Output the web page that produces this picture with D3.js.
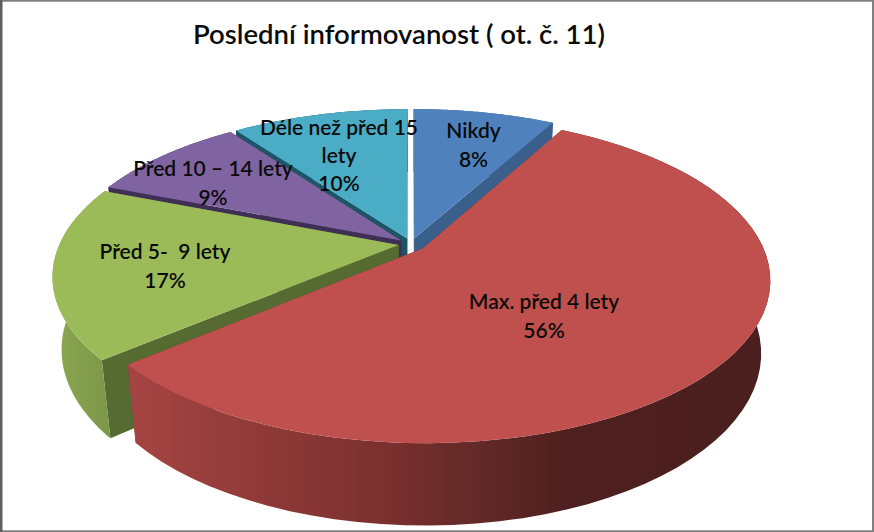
<!DOCTYPE html>
<html><head><meta charset="utf-8">
<script src="https://cdnjs.cloudflare.com/ajax/libs/d3/7.8.5/d3.min.js"></script>
<style>html,body{margin:0;padding:0;background:#fff}svg{display:block}text{font-family:Lato,"Noto Sans",sans-serif;fill:#0b0b0b;white-space:pre}</style>
</head><body><div id="c"></div>
<script>
const titleText = "Poslední informovanost ( ot. č. 11)";
const categories = ["Nikdy","Max. před 4 lety","Před 5-  9 lety","Před 10 – 14 lety","Déle než před 15 lety"];
const values = [8,55.8,17.2,9,10];
const labelLines = [["Nikdy","8%"],["Max. před 4 lety","56%"],["Před 5-  9 lety","17%"],["Před 10 – 14 lety","9%"],["Déle než před 15","lety","10%"]];
const labelPos = [[473.5,138],[544,309],[165,259],[213,176],[339,135]];
const topColors = ["#4F81BD","#C0504D","#9BBB59","#8064A2","#4BACC6"];
const wallColors = ["#3A5F8B","#7a2f2d","#566B31","#3F2F55","#1C5566"];
const explode = [12.5,15,12.5,12.5,12.5];
const W=874,H=532;
const svg=d3.select("#c").append("svg").attr("width",W).attr("height",H);
svg.append("rect").attr("x",.75).attr("y",.75).attr("width",W-1.75).attr("height",H-1.5).attr("fill","#fff").attr("stroke","#808080").attr("stroke-width",2);
svg.append("rect").attr("x",0).attr("y",0).attr("width",2.5).attr("height",H).attr("fill","#5f5f5f");

const defs=svg.append("defs");
const gr=defs.append("linearGradient").attr("id","redWall").attr("gradientUnits","userSpaceOnUse").attr("x1",131).attr("x2",770).attr("y1",0).attr("y2",0);
[[0,"#A54543"],[.2,"#8F3A38"],[.4,"#7A302E"],[.55,"#612928"],[.68,"#4E201F"],[1,"#4A1F1E"]].forEach(s=>gr.append("stop").attr("offset",s[0]).attr("stop-color",s[1]));
const gg=defs.append("linearGradient").attr("id","greenWall").attr("gradientUnits","userSpaceOnUse").attr("x1",54).attr("x2",110).attr("y1",0).attr("y2",0);
[[0,"#8CA851"],[1,"#7B9647"]].forEach(s=>gg.append("stop").attr("offset",s[0]).attr("stop-color",s[1]));

// projection
const cx=411,cy=244,R=339,K=.19,A=155.9,HH=73.3,B=.025;
function proj(th,r,bottom,off,E){
  const X=r*Math.sin(th)+E*Math.sin(off), Z=r*Math.cos(th)+E*Math.cos(off);
  const d=1+K*Z/R+(bottom?B:0);
  return [cx+X/d, cy+(-A*Z/R+(bottom?HH:0))/d];
}
const pieGen=d3.pie().sort(null).value(d=>d);
const arcs=pieGen(values);
const line=d3.line();
function arcPts(a,bottom,off,E){
  return d3.range(0,61).map(i=>{const t=a.startAngle+(a.endAngle-a.startAngle)*i/60;return proj(t,R,bottom,off,E);});
}
const order=[0,4,3,2,1];
const g=svg.append("g");
order.forEach(i=>{
  const a=arcs[i],off=(a.startAngle+a.endAngle)/2,E=explode[i];
  const sl=g.append("g");
  const ct=proj(0,0,false,off,E),cb=proj(0,0,true,off,E);
  const topArc=arcPts(a,false,off,E),botArc=arcPts(a,true,off,E);
  const wall=i==1?"url(#redWall)":i==2?"url(#greenWall)":wallColors[i];
  [[topArc[0],botArc[0]],[topArc[60],botArc[60]]].forEach(p=>{
    sl.append("path").attr("d",line([ct,p[0],p[1],cb])+"Z").attr("fill",wallColors[i]);
  });
  sl.append("path").attr("d",line(topArc.concat(botArc.slice().reverse()))+"Z").attr("fill",wall);
  sl.append("path").attr("d",line([ct].concat(topArc))+"Z").attr("fill",topColors[i]);
});
labelLines.forEach((ls,i)=>{
  const t=svg.append("text").attr("text-anchor","middle").attr("font-size",21).attr("font-weight",600);
  ls.forEach((s,j)=>t.append("tspan").attr("x",labelPos[i][0]).attr("y",labelPos[i][1]+j*(i==4?28:28.5)).text(s));
});
svg.append("text").attr("x",399).attr("y",44).attr("text-anchor","middle").attr("font-size",27.5).attr("font-weight",600).text(titleText);
</script></body></html>
